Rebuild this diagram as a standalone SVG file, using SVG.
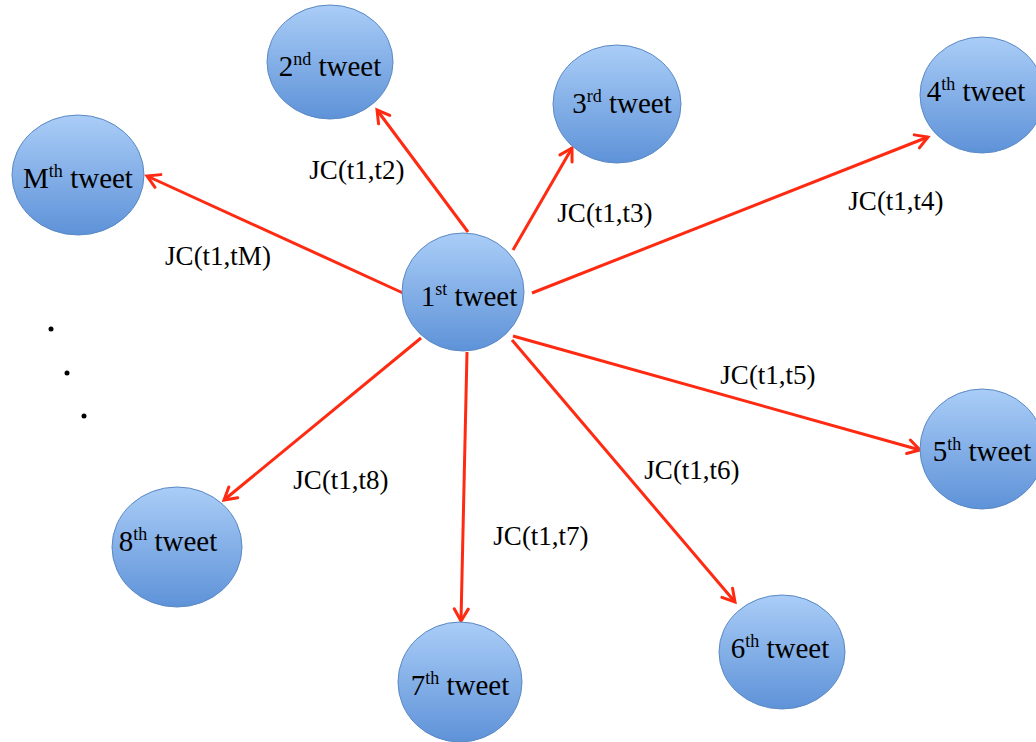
<svg xmlns="http://www.w3.org/2000/svg" width="1036" height="742" viewBox="0 0 1036 742">
<style>
.node ellipse{fill:url(#g);stroke:#5b89c4;stroke-width:1}
.nt{font-family:"Liberation Serif","Times New Roman",serif;font-size:29px;fill:#000;text-anchor:middle}
.sup{font-size:18px}
.lbl{font-family:"Liberation Serif","Times New Roman",serif;font-size:27px;fill:#000;text-anchor:middle}
.edge{stroke:#ff2a12;stroke-width:3;fill:none;marker-end:url(#ah)}
</style>
<defs>
<linearGradient id="g" x1="0" y1="0" x2="0" y2="1">
<stop offset="0" stop-color="#aacdf7"/>
<stop offset="1" stop-color="#5e92d8"/>
</linearGradient>
<marker id="ah" markerUnits="userSpaceOnUse" markerWidth="20" markerHeight="20" refX="14" refY="8" orient="auto" viewBox="0 0 20 16">
<path d="M2,1 L14,8 L2,15" fill="none" stroke="#ff2a12" stroke-width="3" stroke-linecap="round" stroke-linejoin="miter"/>
</marker>
</defs>
<rect width="1036" height="742" fill="#fff"/>
<g id="connectors">
<line class="edge" x1="468" y1="232" x2="377" y2="110"/>
<line class="edge" x1="513" y1="250" x2="572" y2="148"/>
<line class="edge" x1="532" y1="293" x2="928" y2="137"/>
<line class="edge" x1="403" y1="293" x2="147" y2="176"/>
<line class="edge" x1="513" y1="336" x2="920" y2="450"/>
<line class="edge" x1="512" y1="340" x2="735" y2="602"/>
<line class="edge" x1="467" y1="352" x2="461" y2="621"/>
<line class="edge" x1="421" y1="338" x2="224" y2="500"/>
</g>
<g id="labels">
<text class="lbl" x="357" y="179">JC(t1,t2)</text>
<text class="lbl" x="605" y="222">JC(t1,t3)</text>
<text class="lbl" x="896" y="210">JC(t1,t4)</text>
<text class="lbl" x="218" y="265">JC(t1,tM)</text>
<text class="lbl" x="768" y="384">JC(t1,t5)</text>
<text class="lbl" x="692" y="479">JC(t1,t6)</text>
<text class="lbl" x="541" y="545">JC(t1,t7)</text>
<text class="lbl" x="341" y="489">JC(t1,t8)</text>
</g>
<g id="dots" fill="#000">
<circle cx="51" cy="329" r="2.5"/>
<circle cx="67" cy="373" r="2.5"/>
<circle cx="84" cy="416" r="2.5"/>
</g>
<g id="n1" class="node"><ellipse cx="463" cy="292" rx="61" ry="59"/><text class="nt" x="469" y="306">1<tspan class="sup" dy="-11">st</tspan><tspan dy="11"> tweet</tspan></text></g>
<g id="n2" class="node"><ellipse cx="330" cy="62" rx="63" ry="57"/><text class="nt" x="330" y="76">2<tspan class="sup" dy="-11">nd</tspan><tspan dy="11"> tweet</tspan></text></g>
<g id="n3" class="node"><ellipse cx="617" cy="104" rx="64" ry="59"/><text class="nt" x="622" y="113">3<tspan class="sup" dy="-11">rd</tspan><tspan dy="11"> tweet</tspan></text></g>
<g id="n4" class="node"><ellipse cx="982" cy="95" rx="62" ry="58"/><text class="nt" x="976" y="101">4<tspan class="sup" dy="-11">th</tspan><tspan dy="11"> tweet</tspan></text></g>
<g id="nM" class="node"><ellipse cx="78" cy="175" rx="66" ry="60"/><text class="nt" x="78" y="188">M<tspan class="sup" dy="-11">th</tspan><tspan dy="11"> tweet</tspan></text></g>
<g id="n5" class="node"><ellipse cx="982" cy="449" rx="62" ry="60"/><text class="nt" x="982" y="461">5<tspan class="sup" dy="-11">th</tspan><tspan dy="11"> tweet</tspan></text></g>
<g id="n6" class="node"><ellipse cx="782" cy="652" rx="63" ry="57"/><text class="nt" x="780" y="658">6<tspan class="sup" dy="-11">th</tspan><tspan dy="11"> tweet</tspan></text></g>
<g id="n7" class="node"><ellipse cx="460" cy="682" rx="62" ry="60"/><text class="nt" x="460" y="695">7<tspan class="sup" dy="-11">th</tspan><tspan dy="11"> tweet</tspan></text></g>
<g id="n8" class="node"><ellipse cx="177" cy="547" rx="65" ry="60"/><text class="nt" x="168" y="551">8<tspan class="sup" dy="-11">th</tspan><tspan dy="11"> tweet</tspan></text></g>
</svg>
